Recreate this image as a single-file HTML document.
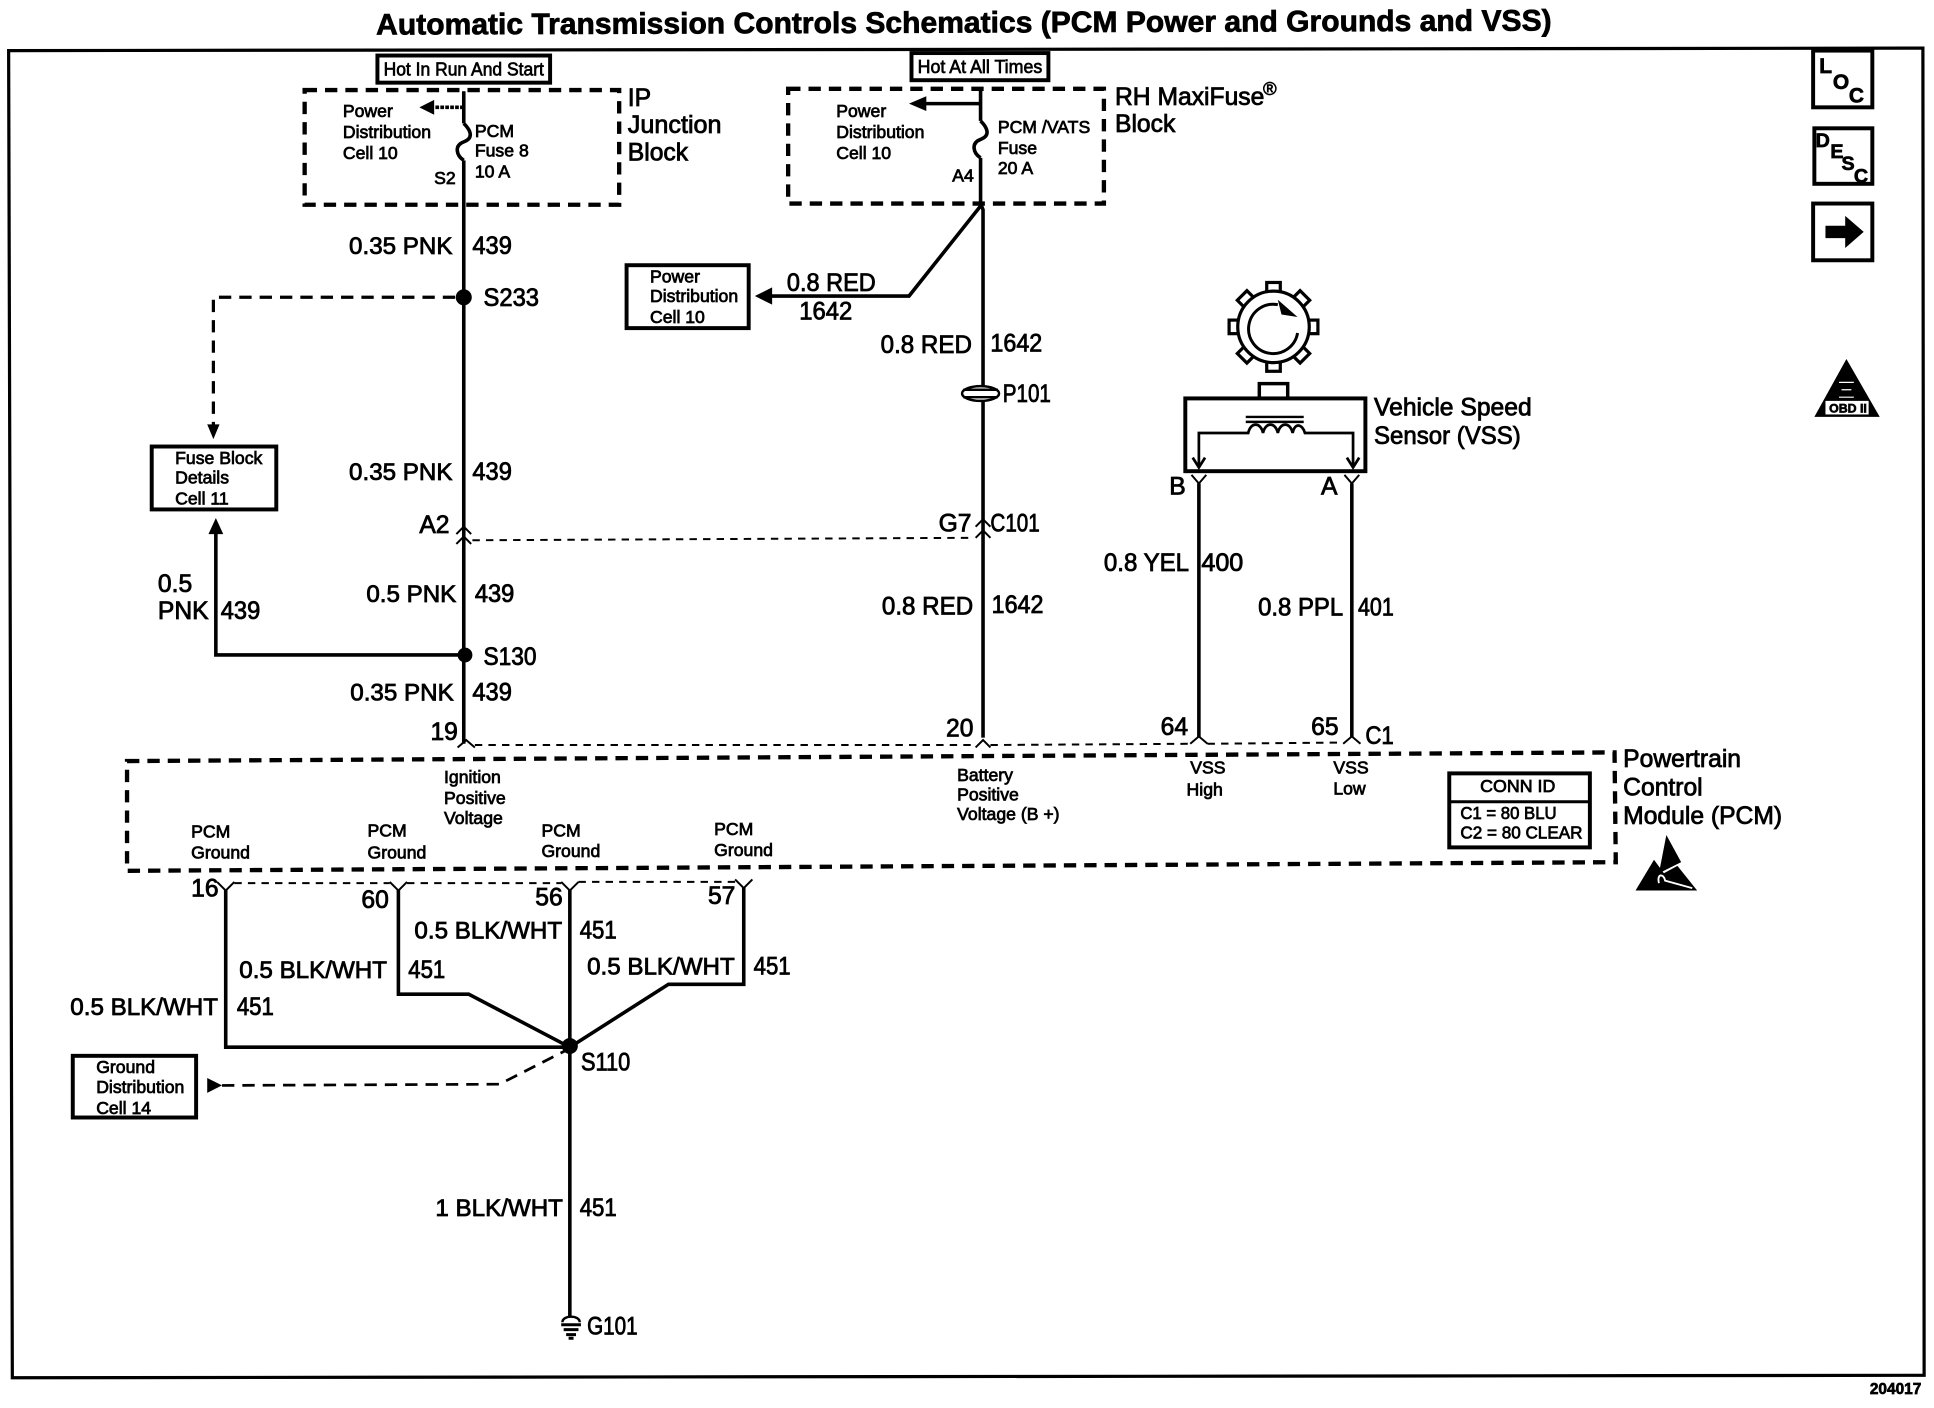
<!DOCTYPE html>
<html><head><meta charset="utf-8"><title>Automatic Transmission Controls Schematics</title>
<style>
html,body{margin:0;padding:0;background:#fff;width:1934px;height:1408px;overflow:hidden}
svg{display:block}
text{font-family:"Liberation Sans",Arial,sans-serif;fill:#000;stroke:#000;stroke-width:.55px}
.l{font-size:20px;stroke-width:.65px}.s{font-size:14.3px;stroke-width:.6px}.m{font-size:15px;stroke-width:.55px}
.c{font-size:19.6px;stroke-width:.65px}
.w{fill:none;stroke:#000;stroke-width:2.9}.t{fill:none;stroke:#000;stroke-width:1.6}
.d{fill:none;stroke:#000;stroke-width:3.5;stroke-dasharray:10 6.5}
.td{fill:none;stroke:#000;stroke-width:1.6;stroke-dasharray:6 5}
.b{fill:#fff;stroke:#000;stroke-width:3.2}
</style></head><body>
<svg xmlns="http://www.w3.org/2000/svg" width="1934" height="1408" viewBox="0 0 1568 1141.5">
<rect width="1568" height="1142" fill="#fff"/>
<text x="305" y="28" font-size="24" font-weight="bold" textLength="953" lengthAdjust="spacingAndGlyphs" transform="rotate(-.2 305 28)" style="stroke-width:.6px">Automatic Transmission Controls Schematics (PCM Power and Grounds and VSS)</text>
<polygon points="7,41 1559,39 1560,1115 10,1117" fill="none" stroke="#000" stroke-width="2.6"/>

<!-- IP block -->
<rect class="b" x="306" y="45" width="140" height="22"/>
<text class="m" x="311" y="61" textLength="130" lengthAdjust="spacingAndGlyphs">Hot In Run And Start</text>
<rect class="d" x="247" y="73" width="255" height="93"/>
<path class="w" d="M376 74V100M376 130V603"/>
<path class="w" d="M376 100C382 106 384 112 376 115C368 118 370 126 376 130"/>
<path class="w" d="M376 87H352" stroke-dasharray="3 1"/><polygon points="340,87 352,81 352,93"/>
<text class="s" x="278" y="95">Power</text><text class="s" x="278" y="112">Distribution</text><text class="s" x="278" y="129">Cell 10</text>
<text class="s" x="385" y="111">PCM</text><text class="s" x="385" y="127">Fuse 8</text><text class="s" x="385" y="144">10 A</text>
<text class="s" x="352" y="149">S2</text>
<text class="l" x="509" y="86">IP</text><text class="l" x="509" y="108" textLength="76" lengthAdjust="spacingAndGlyphs">Junction</text><text class="l" x="509" y="130">Block</text>
<text class="c" x="283" y="206">0.35 PNK</text><text class="l" x="383" y="206" textLength="32" lengthAdjust="spacingAndGlyphs">439</text>
<circle cx="376" cy="241" r="6.5"/>
<text class="l" x="392" y="248" textLength="45" lengthAdjust="spacingAndGlyphs">S233</text>
<path class="d" d="M369 241H173V345" style="stroke-width:2.6"/><polygon points="173,356 168,344 178,344"/>
<rect class="b" x="123" y="362" width="101" height="51"/>
<text class="s" x="142" y="376">Fuse Block</text><text class="s" x="142" y="392">Details</text><text class="s" x="142" y="409">Cell 11</text>
<text class="c" x="283" y="389">0.35 PNK</text><text class="l" x="383" y="389" textLength="32" lengthAdjust="spacingAndGlyphs">439</text>
<text class="l" x="340" y="432">A2</text>
<path class="t" d="M370 433L376 427L382 433M370 441L376 435L382 441"/>
<path class="td" d="M383 438L790 436"/>
<text class="c" x="297" y="488">0.5 PNK</text><text class="l" x="385" y="488" textLength="32" lengthAdjust="spacingAndGlyphs">439</text>
<circle cx="377" cy="531" r="6"/><text class="l" x="392" y="539" textLength="43" lengthAdjust="spacingAndGlyphs">S130</text>
<path class="w" d="M377 531H175V432"/><polygon points="175,420 169,433 181,433"/>
<text class="l" x="128" y="480">0.5</text><text class="l" x="128" y="502">PNK</text><text class="l" x="179" y="502" textLength="32" lengthAdjust="spacingAndGlyphs">439</text>
<text class="c" x="284" y="568">0.35 PNK</text><text class="l" x="383" y="568" textLength="32" lengthAdjust="spacingAndGlyphs">439</text>
<text class="l" x="349" y="600">19</text>
<path class="t" d="M371 606L378 600L385 606M791 606L797 600L803 606M965 603L972 597L979 603M1089 603L1096 597L1103 603"/>
<path class="td" d="M385 604L791 604M803 604L965 603M979 603L1089 602"/>

<!-- RH block -->
<rect class="b" x="739" y="43" width="111" height="22"/>
<text class="m" x="744" y="59" textLength="101" lengthAdjust="spacingAndGlyphs">Hot At All Times</text>
<rect class="d" x="639" y="72" width="256" height="93"/>
<path class="w" d="M795 72V98M795 128V165L797 170V598"/>
<path class="w" d="M795 98C801 104 803 110 795 113C787 116 789 124 795 128"/>
<path class="w" d="M795 84H750"/><polygon points="737,84 751,78 751,90"/>
<text class="s" x="678" y="95">Power</text><text class="s" x="678" y="112">Distribution</text><text class="s" x="678" y="129">Cell 10</text>
<text class="s" x="809" y="108">PCM /VATS</text><text class="s" x="809" y="125">Fuse</text><text class="s" x="809" y="141">20 A</text>
<text class="s" x="772" y="147">A4</text>
<text class="l" x="904" y="85">RH MaxiFuse</text><text x="1024" y="77" font-size="15">®</text><text class="l" x="904" y="107">Block</text>
<path class="w" d="M795 167L737 240H625"/><polygon points="612,240 626,233 626,247"/>
<text class="l" x="638" y="236" textLength="72" lengthAdjust="spacingAndGlyphs">0.8 RED</text><text class="l" x="648" y="259" textLength="43" lengthAdjust="spacingAndGlyphs">1642</text>
<rect class="b" x="508" y="215" width="99" height="51"/>
<text class="s" x="527" y="229">Power</text><text class="s" x="527" y="245">Distribution</text><text class="s" x="527" y="262">Cell 10</text>
<text class="l" x="714" y="286" textLength="74" lengthAdjust="spacingAndGlyphs">0.8 RED</text><text class="l" x="803" y="285" textLength="42" lengthAdjust="spacingAndGlyphs">1642</text>
<ellipse cx="795" cy="319" rx="15" ry="6" fill="#fff" stroke="#000" stroke-width="2"/>
<path stroke="#000" stroke-width="2" d="M781 316H809M781 322H809"/>
<text class="l" x="813" y="326" textLength="39" lengthAdjust="spacingAndGlyphs">P101</text>
<text class="l" x="761" y="431">G7</text><text class="l" x="803" y="431" textLength="40" lengthAdjust="spacingAndGlyphs">C101</text>
<path class="t" d="M791 427L797 421L803 427M791 436L797 430L803 436"/>
<text class="l" x="715" y="498" textLength="74" lengthAdjust="spacingAndGlyphs">0.8 RED</text><text class="l" x="804" y="497" textLength="42" lengthAdjust="spacingAndGlyphs">1642</text>
<text class="l" x="767" y="597">20</text>

<!-- VSS -->
<g fill="#fff" stroke="#000" stroke-width="2.6">
<rect x="1027" y="229" width="11" height="9"/>
<rect x="1027" y="229" width="11" height="9" transform="rotate(45 1032.5 265)"/>
<rect x="1027" y="229" width="11" height="9" transform="rotate(90 1032.5 265)"/>
<rect x="1027" y="229" width="11" height="9" transform="rotate(135 1032.5 265)"/>
<rect x="1027" y="229" width="11" height="9" transform="rotate(180 1032.5 265)"/>
<rect x="1027" y="229" width="11" height="9" transform="rotate(225 1032.5 265)"/>
<rect x="1027" y="229" width="11" height="9" transform="rotate(270 1032.5 265)"/>
<rect x="1027" y="229" width="11" height="9" transform="rotate(315 1032.5 265)"/>
<circle cx="1032.5" cy="265" r="29"/>
</g>
<path fill="none" stroke="#000" stroke-width="2.4" d="M1036 247A20 20 0 1 0 1052 270"/>
<polygon points="1052,257 1036,243 1039,255"/>
<rect x="1021" y="311" width="23" height="12" fill="#fff" stroke="#000" stroke-width="2.8"/>
<rect class="b" x="961" y="323" width="146" height="59"/>
<path stroke="#000" stroke-width="2" d="M1010 338H1057M1010 342H1057"/>
<path class="w" style="stroke-width:2.2" d="M972 378V351H1012C1014 342 1022 342 1024 351C1026 342 1034 342 1036 351C1038 342 1046 342 1048 351C1050 342 1056 344 1058 351H1097V378"/>
<path class="w" style="stroke-width:2.2" d="M967 371L972 379L977 371M1092 371L1097 379L1102 371"/>
<text class="l" x="1114" y="337">Vehicle Speed</text><text class="l" x="1114" y="360" textLength="119" lengthAdjust="spacingAndGlyphs">Sensor (VSS)</text>
<text class="l" x="948" y="401">B</text><text class="l" x="1071" y="401">A</text>
<path class="t" d="M966 385L972 392L978 385M1090 385L1096 392L1102 385"/>
<path class="w" d="M972 392V598M1096 392V598"/>
<text class="l" x="895" y="463" textLength="69" lengthAdjust="spacingAndGlyphs">0.8 YEL</text><text class="l" x="974" y="463" textLength="34" lengthAdjust="spacingAndGlyphs">400</text>
<text class="l" x="1020" y="499" textLength="69" lengthAdjust="spacingAndGlyphs">0.8 PPL</text><text class="l" x="1101" y="499" textLength="29" lengthAdjust="spacingAndGlyphs">401</text>
<text class="l" x="941" y="596">64</text><text class="l" x="1063" y="596">65</text><text class="l" x="1107" y="603" textLength="23" lengthAdjust="spacingAndGlyphs">C1</text>

<!-- PCM -->
<polygon class="d" points="103,617 1309,610 1310,699 103,706"/>
<text class="s" x="360" y="635">Ignition</text><text class="s" x="360" y="652">Positive</text><text class="s" x="360" y="668">Voltage</text>
<text class="s" x="776" y="633">Battery</text><text class="s" x="776" y="649">Positive</text><text class="s" x="776" y="665">Voltage (B +)</text>
<text class="s" x="965" y="627">VSS</text><text class="s" x="962" y="645">High</text>
<text class="s" x="1081" y="627">VSS</text><text class="s" x="1081" y="644">Low</text>
<text class="s" x="155" y="679">PCM</text><text class="s" x="155" y="696">Ground</text>
<text class="s" x="298" y="678">PCM</text><text class="s" x="298" y="696">Ground</text>
<text class="s" x="439" y="678">PCM</text><text class="s" x="439" y="695">Ground</text>
<text class="s" x="579" y="677">PCM</text><text class="s" x="579" y="694">Ground</text>
<rect class="b" x="1175" y="627" width="114" height="60"/>
<path stroke="#000" stroke-width="2.4" d="M1175 650H1289"/>
<text class="s" x="1200" y="642" textLength="61" lengthAdjust="spacingAndGlyphs">CONN ID</text><text class="s" x="1184" y="664" textLength="78" lengthAdjust="spacingAndGlyphs">C1 = 80 BLU</text><text class="s" x="1184" y="680" textLength="99" lengthAdjust="spacingAndGlyphs">C2 = 80 CLEAR</text>
<text class="l" x="1316" y="622">Powertrain</text><text class="l" x="1316" y="645">Control</text><text class="l" x="1316" y="668">Module (PCM)</text>
<polygon points="1351,677 1363,699 1345,708"/>
<polygon points="1326,722 1341,697 1349,708 1360,702 1376,722"/>
<path fill="none" stroke="#fff" stroke-width="1.5" d="M1345 716C1343 708 1349 708 1350 714L1372 720"/>

<!-- grounds -->
<path class="t" d="M176 715L183 722L190 715M316 715L323 722L330 715M455 715L462 722L469 715M596 713L603 720L610 713"/>
<path class="td" d="M190 716H316M330 716H455M469 715H596"/>
<path class="w" d="M183 721V849H462M323 721V806H380L462 849M462 721V1068M603 719V798H542L462 849"/>
<text class="l" x="155" y="727">16</text><text class="l" x="293" y="736">60</text><text class="l" x="434" y="734">56</text><text class="l" x="574" y="733">57</text>
<text class="c" x="336" y="761">0.5 BLK/WHT</text><text class="l" x="470" y="761" textLength="30" lengthAdjust="spacingAndGlyphs">451</text>
<text class="c" x="194" y="793">0.5 BLK/WHT</text><text class="l" x="331" y="793" textLength="30" lengthAdjust="spacingAndGlyphs">451</text>
<text class="c" x="476" y="790">0.5 BLK/WHT</text><text class="l" x="611" y="790" textLength="30" lengthAdjust="spacingAndGlyphs">451</text>
<text class="c" x="57" y="823">0.5 BLK/WHT</text><text class="l" x="192" y="823" textLength="30" lengthAdjust="spacingAndGlyphs">451</text>
<circle cx="462" cy="848" r="6.5"/><text class="l" x="471" y="868" textLength="40" lengthAdjust="spacingAndGlyphs">S110</text>
<rect class="b" x="59" y="856" width="100" height="50"/>
<text class="s" x="78" y="870">Ground</text><text class="s" x="78" y="886">Distribution</text><text class="s" x="78" y="903">Cell 14</text>
<polygon points="168,874 168,886 180,880"/>
<path class="d" style="stroke-width:2.2" d="M180 880L405 879L458 852"/>
<text class="c" x="353" y="986">1 BLK/WHT</text><text class="l" x="470" y="986" textLength="30" lengthAdjust="spacingAndGlyphs">451</text>
<path stroke="#000" stroke-width="2" fill="none" d="M456 1072C456 1066 470 1066 470 1072"/>
<path stroke="#000" stroke-width="2.4" d="M455 1074H471M457 1078H469M459 1082H467M461 1085H465"/>
<text class="l" x="476" y="1082" textLength="41" lengthAdjust="spacingAndGlyphs">G101</text>

<!-- right icons -->
<rect class="b" x="1470" y="41" width="48" height="46"/>
<text x="1475" y="59" font-size="17" font-weight="bold">L</text><text x="1486" y="72" font-size="17" font-weight="bold">O</text><text x="1499" y="83" font-size="17" font-weight="bold">C</text>
<rect class="b" x="1471" y="104" width="47" height="45"/>
<text x="1472" y="119" font-size="16" font-weight="bold">D</text><text x="1484" y="128" font-size="16" font-weight="bold">E</text><text x="1493" y="138" font-size="16" font-weight="bold">S</text><text x="1503" y="148" font-size="16" font-weight="bold">C</text>
<rect class="b" x="1470" y="165" width="48" height="46"/>
<polygon points="1480,183 1496,183 1496,175 1511,188 1496,201 1496,193 1480,193"/>
<polygon points="1497,291 1524,338 1471,338"/>
<rect x="1480" y="325" width="35" height="11" fill="#fff"/>
<text x="1483" y="334.500" font-size="10" font-weight="bold">OBD II</text>
<path stroke="#fff" stroke-width="1" d="M1491 310H1503M1493 316H1501M1491 322H1503"/>
<text x="1516" y="1130" font-size="12.500" font-weight="bold">204017</text>
</svg>
</body></html>
